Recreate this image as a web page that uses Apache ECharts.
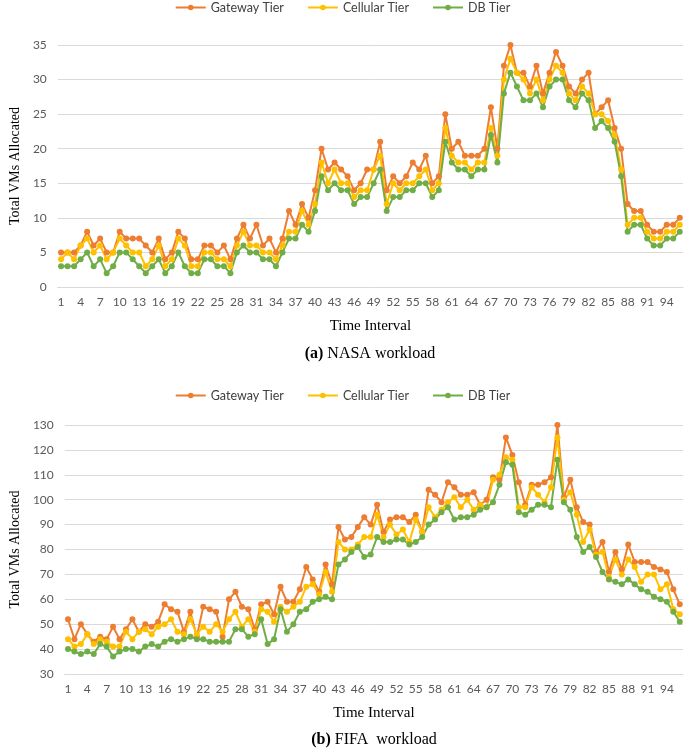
<!DOCTYPE html>
<html>
<head>
<meta charset="utf-8">
<script src="https://cdn.jsdelivr.net/npm/echarts@6/dist/echarts.min.js"></script>
<style>
html,body{margin:0;padding:0;background:#fff;}
#chart{width:685px;height:748px;}
</style>
</head>
<body>
<div id="chart"></div>
<script>
// ---- Data ----
var categories = [];
for (var i = 1; i <= 96; i++) categories.push(String(i));

var seriesNames = ['Gateway Tier', 'Cellular Tier', 'DB Tier'];

var nasaGateway = [5,5,5,6,8,6,7,5,5,8, 7,7,7,6,5,7,4,5,8,7, 4,4,6,6,5,6,4,7,9,7, 9,6,7,5,7,11,9,12,10,14,
  20,17,18,17,16,14,15,17,17,21, 14,16,15,16,18,17,19,15,16,25, 20,21,19,19,19,20,26,20,32,35,
  31,31,29,32,28,31,34,32,29,28, 30,31,25,26,27,23,20,12,11,11, 9,8,8,9,9,10];
var nasaCellular = [4,5,4,6,7,5,6,4,5,7, 6,5,5,3,4,6,3,4,7,6, 3,3,5,5,4,4,3,6,8,6, 6,5,5,4,6,8,8,11,9,12,
  18,15,17,15,15,13,14,14,17,19, 12,15,14,15,15,16,17,14,15,23, 19,18,18,17,18,18,23,19,30,33,
  31,30,28,30,27,30,32,31,28,27, 29,28,25,25,24,22,17,9,10,10, 8,7,7,8,8,9];
var nasaDB = [3,3,3,4,5,3,4,2,3,5, 5,4,3,2,3,4,2,3,5,3, 2,2,4,4,3,3,2,5,6,5, 5,4,4,3,5,7,7,9,8,11,
  16,14,15,14,14,12,13,13,15,17, 11,13,13,14,14,15,15,13,14,21, 18,17,17,16,17,17,22,18,28,31,
  29,27,27,28,26,29,30,30,27,26, 28,27,23,24,23,21,16,8,9,9, 7,6,6,7,7,8];

var fifaGateway = [52,44,50,46,43,45,44,49,44,48, 52,47,50,49,51,58,56,55,47,55, 45,57,56,55,45,60,63,57,56,48,
  58,59,54,65,59,59,64,73,68,63, 74,66,89,84,85,89,93,90,98,87, 92,93,93,91,94,87,104,102,99,107,
  105,102,102,103,98,100,109,108,125,118, 107,98,106,106,107,109,130,101,108,97, 91,90,79,83,71,79,72,82,75,75,
  75,73,72,71,64,58];
var fifaCellular = [44,41,42,46,42,44,43,41,41,47, 44,47,48,46,49,50,52,47,46,52, 46,49,47,50,47,52,55,49,52,47,
  56,55,51,57,55,57,59,65,66,62, 71,63,83,80,80,82,85,85,94,85, 90,86,88,83,92,87,97,93,96,99,
  101,97,100,96,98,97,108,110,117,116, 97,97,105,102,99,105,125,100,103,94, 83,88,78,79,69,76,70,76,73,67,
  70,70,64,66,56,54];
var fifaDB = [40,39,38,39,38,42,41,37,39,40, 40,39,41,42,41,43,44,43,44,45, 44,44,43,43,43,43,48,48,45,46,
  52,42,44,56,47,50,55,56,59,60, 61,60,74,76,79,81,77,78,85,83, 83,84,84,82,83,85,90,92,95,97,
  92,93,93,94,96,97,99,106,115,114, 95,94,96,98,98,97,116,99,96,85, 79,81,77,71,68,67,66,68,66,64,
  63,61,60,59,55,51];

var colors = ['#ED7D31', '#FFC000', '#70AD47'];
var sansFont = 'Lato';
var serifFont = 'Liberation Serif';

function mkSeries(name, data, idx, color) {
  return {
    name: name, type: 'line', data: data,
    xAxisIndex: idx, yAxisIndex: idx,
    symbol: 'circle', symbolSize: 6, showAllSymbol: true,
    itemStyle: { color: color },
    lineStyle: { color: color, width: 2 },
    emphasis: { disabled: true },
    animation: false
  };
}

function mkX(idx, gap) {
  return {
    type: 'category', gridIndex: idx, data: categories, boundaryGap: true,
    axisTick: { show: false },
    axisLine: { lineStyle: { color: '#D9D9D9', width: 1 } },
    axisLabel: { interval: 2, color: '#595959', fontFamily: sansFont, fontSize: 12, margin: 9 },
    name: 'Time Interval', nameLocation: 'middle', nameGap: gap,
    nameTextStyle: { fontFamily: serifFont, fontSize: 15, color: '#000' }
  };
}
function mkY(idx, min, max, interval, gap) {
  return {
    type: 'value', gridIndex: idx, min: min, max: max, interval: interval,
    axisLine: { show: false }, axisTick: { show: false },
    splitLine: { lineStyle: { color: '#D9D9D9', width: 1 } },
    axisLabel: { color: '#595959', fontFamily: sansFont, fontSize: 12, margin: 11 },
    name: 'Total VMs Allocated', nameLocation: 'middle', nameGap: gap,
    nameTextStyle: { fontFamily: serifFont, fontSize: 14, color: '#000' }
  };
}
function mkLegend(top) {
  return {
    top: top, left: 'center', itemWidth: 30, itemHeight: 7, itemGap: 23, padding: 0,
    data: seriesNames,
    textStyle: { fontFamily: sansFont, fontSize: 12.5, color: '#404040' }
  };
}

var chart = echarts.init(document.getElementById('chart'), null, { renderer: 'canvas' });
chart.setOption({
  backgroundColor: '#fff',
  animation: false,
  color: colors,
  title: [
    { text: '{b|(a)} NASA workload', left: 365, top: 341, textAlign: 'center',
      textStyle: { fontFamily: serifFont, fontSize: 16, fontWeight: 'normal', color: '#000',
        rich: { b: { fontFamily: serifFont, fontSize: 16, fontWeight: 'bold', color: '#000' } } } },
    { text: '{b|(b)} FIFA  workload', left: 369, top: 727, textAlign: 'center',
      textStyle: { fontFamily: serifFont, fontSize: 16, fontWeight: 'normal', color: '#000',
        rich: { b: { fontFamily: serifFont, fontSize: 16, fontWeight: 'bold', color: '#000' } } } }
  ],
  legend: [mkLegend(1), mkLegend(389)],
  grid: [
    { left: 47, right: 2, top: 45, height: 242 },
    { left: 55, right: 2, top: 425, height: 249 }
  ],
  xAxis: [mkX(0, 32), mkX(1, 32)],
  yAxis: [mkY(0, 0, 35, 5, 30), mkY(1, 30, 130, 10, 38)],
  series: [
    mkSeries(seriesNames[0], nasaGateway, 0, colors[0]),
    mkSeries(seriesNames[1], nasaCellular, 0, colors[1]),
    mkSeries(seriesNames[2], nasaDB, 0, colors[2]),
    mkSeries(seriesNames[0], fifaGateway, 1, colors[0]),
    mkSeries(seriesNames[1], fifaCellular, 1, colors[1]),
    mkSeries(seriesNames[2], fifaDB, 1, colors[2])
  ]
});
</script>
</body>
</html>
